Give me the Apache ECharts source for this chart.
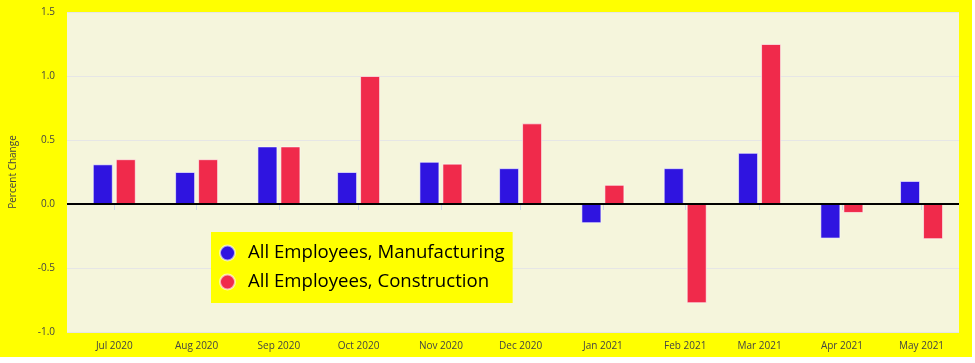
<!DOCTYPE html>
<html>
<head>
<meta charset="utf-8">
<script src="https://cdn.jsdelivr.net/npm/echarts@6/dist/echarts.min.js"></script>
<style>
html,body{margin:0;padding:0;background:#ffffff;}
#chart{width:972px;height:357px;background:#ffff00;}
</style>
</head>
<body>
<div id="chart"></div>
<script>
const months = ['2020-07-01','2020-08-01','2020-09-01','2020-10-01','2020-11-01','2020-12-01','2021-01-01','2021-02-01','2021-03-01','2021-04-01','2021-05-01'];
const manufacturing = [0.31, 0.25, 0.45, 0.25, 0.33, 0.28, -0.15, 0.28, 0.40, -0.27, 0.18];
const construction = [0.35, 0.35, 0.45, 1.00, 0.315, 0.63, 0.15, -0.775, 1.25, -0.07, -0.275];
const seriesNames = ['All Employees, Manufacturing', 'All Employees, Construction'];
const yTicks = [-1.0, -0.5, 0.0, 0.5, 1.0, 1.5];

const DAY = 86400000;
const chart = echarts.init(document.getElementById('chart'), null, {renderer:'canvas'});
const font = "'Open Sans', sans-serif";
chart.setOption({
  animation: false,
  backgroundColor: '#ffff00',
  grid: {left: 63, top: 12, width: 896, height: 320, show: true, backgroundColor: '#f5f5dc', borderWidth: 0},
  legend: {
    orient: 'vertical', left: 211, top: 232,
    backgroundColor: '#ffff00',
    padding: [10, 8, 10, 8],
    itemGap: 7,
    icon: 'circle', itemWidth: 15, itemHeight: 15,
    textStyle: {fontSize: 18.6, color: '#000', fontFamily: font, lineHeight: 22, padding: [0, 0, 0, 8]},
    data: seriesNames
  },
  xAxis: {
    type: 'time',
    // ECharts widens a time axis holding bars by the bar group's overflow; these bounds
    // already account for that so the visible range runs from ~Jun 12 2020 to ~May 15 2021.
    min: '2020-06-21 06:00',
    max: '2021-05-07 01:00',
    minInterval: 28 * DAY,
    maxInterval: 31 * DAY,
    splitLine: {show: false},
    axisLine: {show: true, lineStyle: {color: '#ccd6eb', width: 1}},
    axisTick: {show: true, length: 6, lineStyle: {color: '#ccd6eb'}},
    axisLabel: {formatter: '{MMM} {yyyy}', color: '#444', fontSize: 10, fontFamily: font, margin: 9, fontWeight: 'normal',
      showMinLabel: false, showMaxLabel: false}
  },
  yAxis: {
    type: 'value', min: yTicks[0], max: yTicks[yTicks.length - 1], interval: 0.5,
    name: 'Percent Change', nameLocation: 'middle', nameGap: 49,
    nameTextStyle: {color: '#444', fontSize: 10, fontFamily: font},
    axisLine: {show: false}, axisTick: {show: false},
    splitLine: {lineStyle: {color: '#e6e6e6', width: 1}},
    axisLabel: {color: '#444', fontSize: 10, fontFamily: font, margin: 12, formatter: v => v.toFixed(1)}
  },
  series: [
    {
      name: seriesNames[0], type: 'bar', barWidth: 20, barGap: '15%',
      itemStyle: {color: '#2f14e0', borderColor: 'rgba(255,255,255,0.6)', borderWidth: 1},
      data: months.map((m, i) => [m, manufacturing[i]]),
      markLine: {silent: true, symbol: 'none', z: 10, label: {show: false},
        lineStyle: {color: '#000', width: 2, type: 'solid'}, data: [{yAxis: 0}]}
    },
    {
      name: seriesNames[1], type: 'bar', barWidth: 20, barGap: '15%',
      itemStyle: {color: '#f02a4b', borderColor: 'rgba(255,255,255,0.6)', borderWidth: 1},
      data: months.map((m, i) => [m, construction[i]])
    }
  ]
});
</script>
</body>
</html>
